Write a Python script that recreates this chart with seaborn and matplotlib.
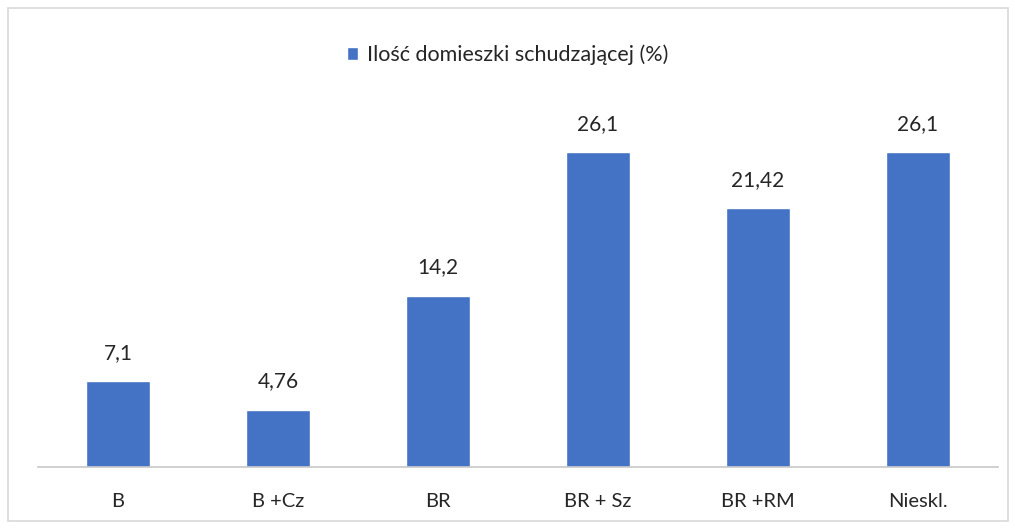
import seaborn as sns
import matplotlib.pyplot as plt
import pandas as pd
from matplotlib.patches import Rectangle

sns.set_style("white")
plt.rcParams['font.family'] = ['Lato', 'DejaVu Sans']

categories = ["B", "B +Cz", "BR", "BR + Sz", "BR +RM", "Nieskl."]
values = [7.1, 4.76, 14.2, 26.1, 21.42, 26.1]
value_labels = ["7,1", "4,76", "14,2", "26,1", "21,42", "26,1"]
series_name = "Ilość domieszki schudzającej (%)"

df = pd.DataFrame({"kat": categories, "val": values})
blue = "#4472C4"
txt = "#262626"

fig = plt.figure(figsize=(10.15, 5.29), dpi=100)
W, H = 1015, 529
# axes in pixel coordinates: x 38..998, baseline y=467, top y=100
ax = fig.add_axes([38 / W, (H - 467) / H, 960 / W, 367 / H])

sns.barplot(data=df, x="kat", y="val", color=blue, width=0.4,
            saturation=1, ax=ax, label=series_name)
ax.set_ylim(0, 367 / (315 / 26.1))
ax.set_xlim(-0.5, len(categories) - 0.5)

for i, (v, lab) in enumerate(zip(values, value_labels)):
    ax.text(i, v + 1.5, lab, ha="center", va="bottom", fontsize=15, color=txt)

for s in ["top", "right", "left"]:
    ax.spines[s].set_visible(False)
ax.spines["bottom"].set_color("#c8c8c8")
ax.spines["bottom"].set_linewidth(1.2)
ax.set_yticks([])
ax.set_xlabel("")
ax.set_ylabel("")
ax.tick_params(axis="x", length=0, pad=19, labelsize=14.5, labelcolor=txt)

leg = ax.legend(loc="center", bbox_to_anchor=(0.5, (H - 55) / H),
                bbox_transform=fig.transFigure, frameon=False, fontsize=15.5,
                handlelength=0.55, handleheight=0.55, handletextpad=0.4)
for t in leg.get_texts():
    t.set_color(txt)

fig.patches.append(Rectangle((8 / W, 8 / H), 1000 / W, 513 / H, transform=fig.transFigure,
                             fill=False, edgecolor="#d9d9d9", linewidth=1.2))

fig.savefig("out.png", dpi=100)
